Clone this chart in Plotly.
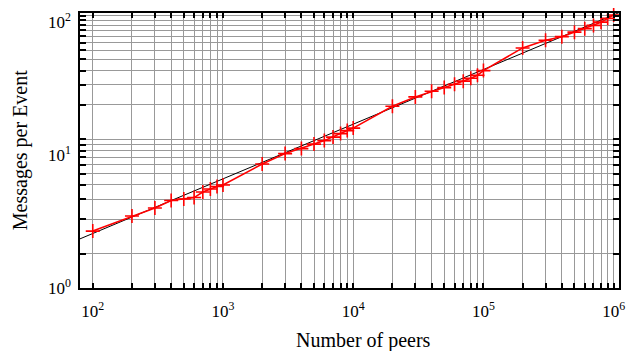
import plotly.graph_objects as go

# ---- data ----
peers = [100, 200, 300, 400, 500, 600, 700, 800, 900, 1000,
         2000, 3000, 4000, 5000, 6000, 7000, 8000, 9000, 10000,
         20000, 30000, 40000, 50000, 60000, 70000, 80000, 90000, 100000,
         200000, 300000, 400000, 500000, 600000, 700000, 800000, 900000, 1000000]
messages = [2.68, 3.48, 4.00, 4.55, 4.67, 4.79, 5.27, 5.55, 5.80, 5.95,
            8.56, 10.26, 11.19, 12.10, 12.85, 13.66, 14.51, 15.29, 15.96,
            23.3, 27.4, 30.2, 32.2, 34.1, 36.0, 37.9, 39.9, 43.2,
            64.0, 73.2, 77.8, 84.1, 89.4, 94.6, 100.0, 106.8, 113.3]

# fitted power-law line (end points)
fit_peers = [70, 1200000]
fit_messages = [2.22, 122.3]

# ---- ticks / labels ----
x_decades = [100, 1000, 10000, 100000, 1000000]
x_decade_labels = ["10<sup>2</sup>", "10<sup>3</sup>", "10<sup>4</sup>", "10<sup>5</sup>", "10<sup>6</sup>"]
x_minor_ticks = [m * 10 ** e for e in range(2, 6) for m in range(2, 10)]

y_grid_ticks = [1, 2, 3, 4, 5, 6, 7, 8, 9, 10, 20, 30, 40, 50, 60, 70, 80, 90, 100, 110, 120]
y_label_vals = [1, 10, 100]
y_tick_labels = ["10<sup>0</sup>", "10<sup>1</sup>", "10<sup>2</sup>"]

FONT = "Liberation Serif"
GRID = "#999999"

fig = go.Figure()
# empty trace so the grid axis (y) gets drawn
fig.add_trace(go.Scatter(x=[None], y=[None], yaxis="y", mode="lines",
                         hoverinfo="skip", showlegend=False))
fig.add_trace(go.Scatter(x=fit_peers, y=fit_messages, mode="lines",
                         line=dict(color="black", width=1), yaxis="y2",
                         hoverinfo="skip"))
fig.add_trace(go.Scatter(x=peers, y=messages, mode="lines+markers",
                         line=dict(color="#ff0000", width=1.6),
                         marker=dict(symbol="cross-thin", size=10,
                                     line=dict(color="#ff0000", width=1.6)),
                         yaxis="y2", cliponaxis=False))

fig.update_layout(
    width=631, height=351,
    margin=dict(l=80, r=11.5, t=13.3, b=62.5),
    paper_bgcolor="white", plot_bgcolor="white",
    showlegend=False,
    font=dict(family=FONT, color="black"),
    xaxis=dict(type="log", range=[1.902, 6.041], automargin=False,
               tickmode="array", tickvals=x_decades, ticktext=x_decade_labels,
               showgrid=True, gridcolor=GRID, gridwidth=1,
               ticks="inside", ticklen=5, tickwidth=1.5, tickcolor="black",
               minor=dict(tickmode="array", tickvals=x_minor_ticks,
                          ticks="inside", ticklen=5, tickwidth=1.5, tickcolor="black",
                          showgrid=True, gridcolor=GRID, gridwidth=1),
               showline=True, linecolor="black", linewidth=2, mirror="allticks",
               zeroline=False, tickfont=dict(family=FONT, size=17),
               ticklabelstandoff=7),
    yaxis=dict(type="log", range=[-0.2987, 2.105], automargin=False,
               tickmode="array", tickvals=y_grid_ticks, showticklabels=False,
               showgrid=True, gridcolor=GRID, gridwidth=1,
               ticks="inside", ticklen=6, tickwidth=1.5, tickcolor="black",
               showline=True, linecolor="black", linewidth=2, mirror="allticks",
               zeroline=False),
    yaxis2=dict(type="log", range=[0, 2.069], overlaying="y", side="left",
                automargin=False,
                tickmode="array", tickvals=y_label_vals, ticktext=y_tick_labels,
                showgrid=False, ticks="", showline=False, zeroline=False,
                tickfont=dict(family=FONT, size=17), ticklabelstandoff=8),
    annotations=[
        dict(text="Number of peers", xref="paper", yref="paper",
             x=0.526, y=0, xanchor="center", yanchor="middle", yshift=-52,
             showarrow=False, font=dict(family=FONT, size=20)),
        dict(text="Messages per Event", xref="paper", yref="paper",
             x=0, y=0.501, xanchor="center", yanchor="middle", xshift=-60,
             textangle=-90, showarrow=False, font=dict(family=FONT, size=20)),
    ],
)

fig.write_html("out.html", config={"displayModeBar": False},
               post_script="document.body.style.margin='0';"
                           "document.body.style.overflow='hidden';")
